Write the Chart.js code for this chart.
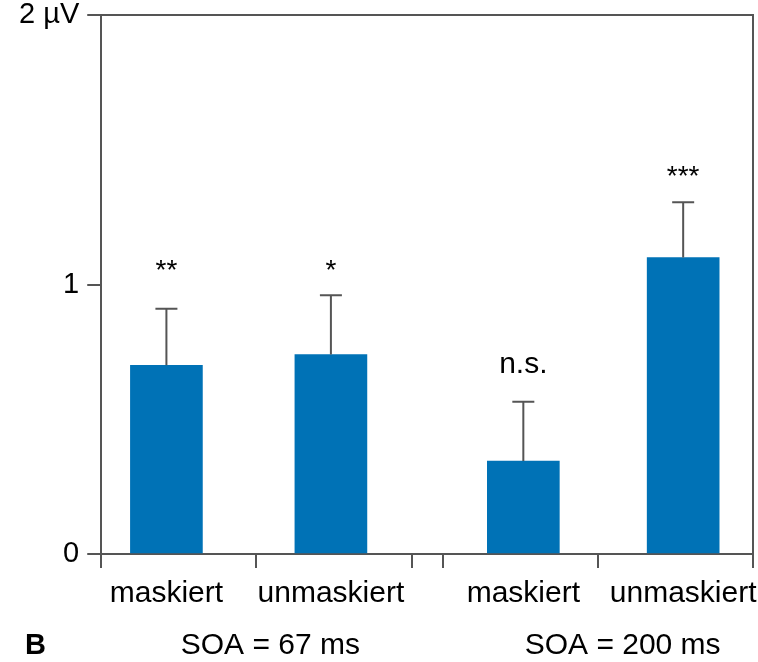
<!DOCTYPE html>
<html>
<head>
<meta charset="utf-8">
<script src="https://cdn.jsdelivr.net/npm/chart.js@4"></script>
<style>
  html, body { margin: 0; background: #fff; }
</style>
</head>
<body>
<canvas id="c" width="758" height="662"></canvas>
<script>
// ---- data ----
const CATS = ['maskiert', 'unmaskiert', 'maskiert', 'unmaskiert'];
const MEANS = [0.70, 0.74, 0.345, 1.10];      // µV
const SEM = [0.21, 0.22, 0.22, 0.205];        // µV, upward error
const SIG = ['**', '*', 'n.s.', '***'];
const SIG_AT = [1.02, 1.02, 0.673, 1.37];     // µV, label baseline
const BAR_AT = [2.1, 7.4, 13.6, 18.75];       // x axis units
const EDGES = [0, 5, 10, 11, 16, 21];         // x tick marks
const GROUPS = ['SOA = 67 ms', 'SOA = 200 ms'];
const GROUP_AT = [5.45, 16.8];
const Y_TICKS = [0, 1, 2];
const Y_LABELS = ['0', '1', '2 µV'];

const AX = '#555';
const BLUE = '#0072B6';
const FONT = "'Liberation Sans', Arial, sans-serif";

// ---- helpers ----
const xTicks = EDGES.concat(BAR_AT).sort((a, b) => a - b);

const errBars = {
  id: 'errBars',
  afterDatasetsDraw(chart) {
    const ctx = chart.ctx;
    const ys = chart.scales.y;
    const meta = chart.getDatasetMeta(0);
    ctx.save();
    ctx.strokeStyle = AX;
    ctx.lineWidth = 2;
    meta.data.forEach((bar, i) => {
      const y0 = ys.getPixelForValue(MEANS[i]);
      const y1 = ys.getPixelForValue(MEANS[i] + SEM[i]);
      ctx.beginPath();
      ctx.moveTo(bar.x, y0);
      ctx.lineTo(bar.x, y1);
      ctx.moveTo(bar.x - 11, y1);
      ctx.lineTo(bar.x + 11, y1);
      ctx.stroke();
    });
    ctx.restore();
  }
};

const extras = {
  id: 'extras',
  afterDraw(chart) {
    const ctx = chart.ctx;
    const a = chart.chartArea;
    const xs = chart.scales.x;
    const ys = chart.scales.y;
    const meta = chart.getDatasetMeta(0);
    ctx.save();
    // top + right frame
    ctx.strokeStyle = AX;
    ctx.lineWidth = 2;
    ctx.beginPath();
    ctx.moveTo(a.left, a.top);
    ctx.lineTo(a.right, a.top);
    ctx.lineTo(a.right, a.bottom);
    ctx.stroke();

    // significance labels
    ctx.fillStyle = '#000';
    ctx.textAlign = 'center';
    ctx.textBaseline = 'alphabetic';
    meta.data.forEach((bar, i) => {
      ctx.font = (SIG[i].startsWith('*') ? '28px ' : '30px ') + FONT;
      ctx.fillText(SIG[i], bar.x, ys.getPixelForValue(SIG_AT[i]));
    });

    // group captions
    ctx.font = '30px ' + FONT;
    GROUPS.forEach((g, i) => {
      ctx.fillText(g, xs.getPixelForValue(GROUP_AT[i]), 654);
    });
    ctx.font = 'bold 29px ' + FONT;
    ctx.textAlign = 'left';
    ctx.fillText('B', 25, 654);
    ctx.restore();
  }
};

// ---- chart ----
new Chart(document.getElementById('c'), {
  type: 'bar',
  data: {
    datasets: [{
      data: MEANS.map((m, i) => ({ x: BAR_AT[i], y: m })),
      backgroundColor: BLUE,
      borderWidth: 0,
      barThickness: 72
    }]
  },
  options: {
    responsive: false,
    animation: false,
    layout: { padding: { left: 11, right: 5, top: 15, bottom: 42 } },
    plugins: { legend: { display: false }, tooltip: { enabled: false } },
    scales: {
      x: {
        type: 'linear',
        min: 0,
        max: 21,
        offset: false,
        afterBuildTicks: s => { s.ticks = xTicks.map(v => ({ value: v })); },
        afterFit: s => { s.paddingLeft = 0; s.paddingRight = 0; },
        ticks: {
          autoSkip: false,
          maxRotation: 0,
          padding: 8,
          color: '#000',
          font: { family: FONT, size: 30 },
          callback: v => {
            const k = BAR_AT.indexOf(v);
            return k >= 0 ? CATS[k] : '';
          }
        },
        grid: {
          offset: false,
          drawOnChartArea: false,
          tickLength: 14,
          lineWidth: 2,
          tickColor: c => EDGES.includes(c.tick && c.tick.value) ? AX : 'rgba(0,0,0,0)'
        },
        border: { color: AX, width: 2 }
      },
      y: {
        min: 0,
        max: 2,
        afterBuildTicks: s => { s.ticks = Y_TICKS.map(v => ({ value: v })); },
        afterFit: s => { s.paddingTop = 0; s.paddingBottom = 0; },
        ticks: {
          padding: 8,
          color: '#000',
          font: { family: FONT, size: 29 },
          callback: v => Y_LABELS[Y_TICKS.indexOf(v)]
        },
        grid: {
          drawOnChartArea: false,
          tickLength: 14,
          lineWidth: 2,
          color: AX
        },
        border: { color: AX, width: 2 }
      }
    }
  },
  plugins: [errBars, extras]
});
</script>
</body>
</html>
